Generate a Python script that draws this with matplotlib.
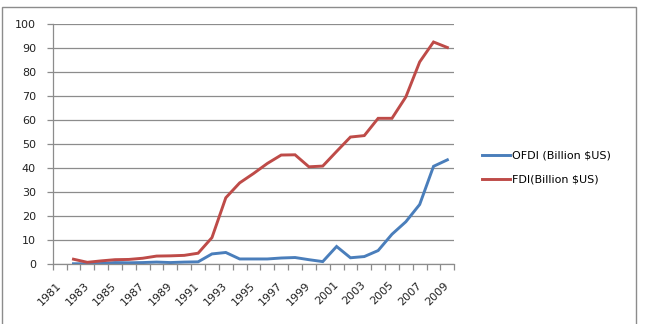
import numpy as np
import matplotlib
matplotlib.use("Agg")
import matplotlib.pyplot as plt
from matplotlib.patches import Rectangle

years = [str(y) for y in range(1981, 2010)]
ofdi = [np.nan, 0.1, 0.1, 0.2, 0.6, 0.5, 0.6, 0.8, 0.6, 0.8, 0.9,
        4.2, 4.8, 2.1, 2.1, 2.1, 2.5, 2.7, 1.8, 1.0, 7.3,
        2.6, 3.1, 5.6, 12.4, 17.6, 24.8, 40.7, 43.4]
fdi = [np.nan, 2.0, 0.7, 1.3, 1.8, 1.9, 2.4, 3.3, 3.4, 3.6, 4.5,
       11.0, 27.6, 33.8, 37.7, 41.9, 45.4, 45.5, 40.5, 40.8, 46.9,
       52.9, 53.5, 60.7, 60.7, 69.6, 84.2, 92.5, 90.2]
series_names = ["OFDI (Billion $US)", "FDI(Billion $US)"]
colors = ["#4A7EBB", "#BE4B48"]

plt.rcParams['font.family'] = ['DejaVu Sans']

W, H = 649, 324
fig = plt.figure(figsize=(W / 100, H / 100), dpi=100)
fig.patch.set_facecolor("white")
fig.add_artist(Rectangle((1.5 / W, -0.05), 634.5 / W, 1.05 - 7.5 / H,
                         transform=fig.transFigure, fill=False,
                         edgecolor="#8c8c8c", lw=1.0))

ax = fig.add_axes([52.7 / W, 60 / H, 401.6 / W, 240 / H])
x = np.arange(len(years))
l1, = ax.plot(x, ofdi, color=colors[0], lw=2.1, label=series_names[0],
              solid_joinstyle="miter")
l2, = ax.plot(x, fdi, color=colors[1], lw=2.1, label=series_names[1],
              solid_joinstyle="miter")

ax.set_xlim(-0.5, len(years) - 0.5)
ax.set_ylim(0, 100)
ax.set_yticks(np.arange(0, 101, 10))
ax.yaxis.grid(True, color="#8c8c8c", lw=0.9)
ax.set_axisbelow(True)

ax.set_xticks(x[::2])
ax.set_xticklabels(years[::2], rotation=45, ha="right", va="center",
                   rotation_mode="anchor", fontsize=8, color="#222222")
ax.set_xticks(np.arange(-0.5, len(years), 1), minor=True)
ax.tick_params(axis="x", which="major", length=0, pad=14)
ax.tick_params(axis="x", which="minor", length=4, color="#8c8c8c", width=0.9)
ax.tick_params(axis="y", length=4, color="#8c8c8c", width=0.9,
               labelsize=8, labelcolor="#222222", pad=8)

for s in ["top", "right"]:
    ax.spines[s].set_visible(False)
for s in ["left", "bottom"]:
    ax.spines[s].set_color("#8c8c8c")
    ax.spines[s].set_linewidth(0.9)

fig.legend(handles=[l1, l2], loc="center left",
           bbox_to_anchor=(481.5 / W, (324 - 167.5) / H), frameon=False,
           fontsize=8, handlelength=2.6, handletextpad=0.1,
           labelspacing=1.25, borderaxespad=0, borderpad=0)

fig.savefig("out.png", dpi=100)
